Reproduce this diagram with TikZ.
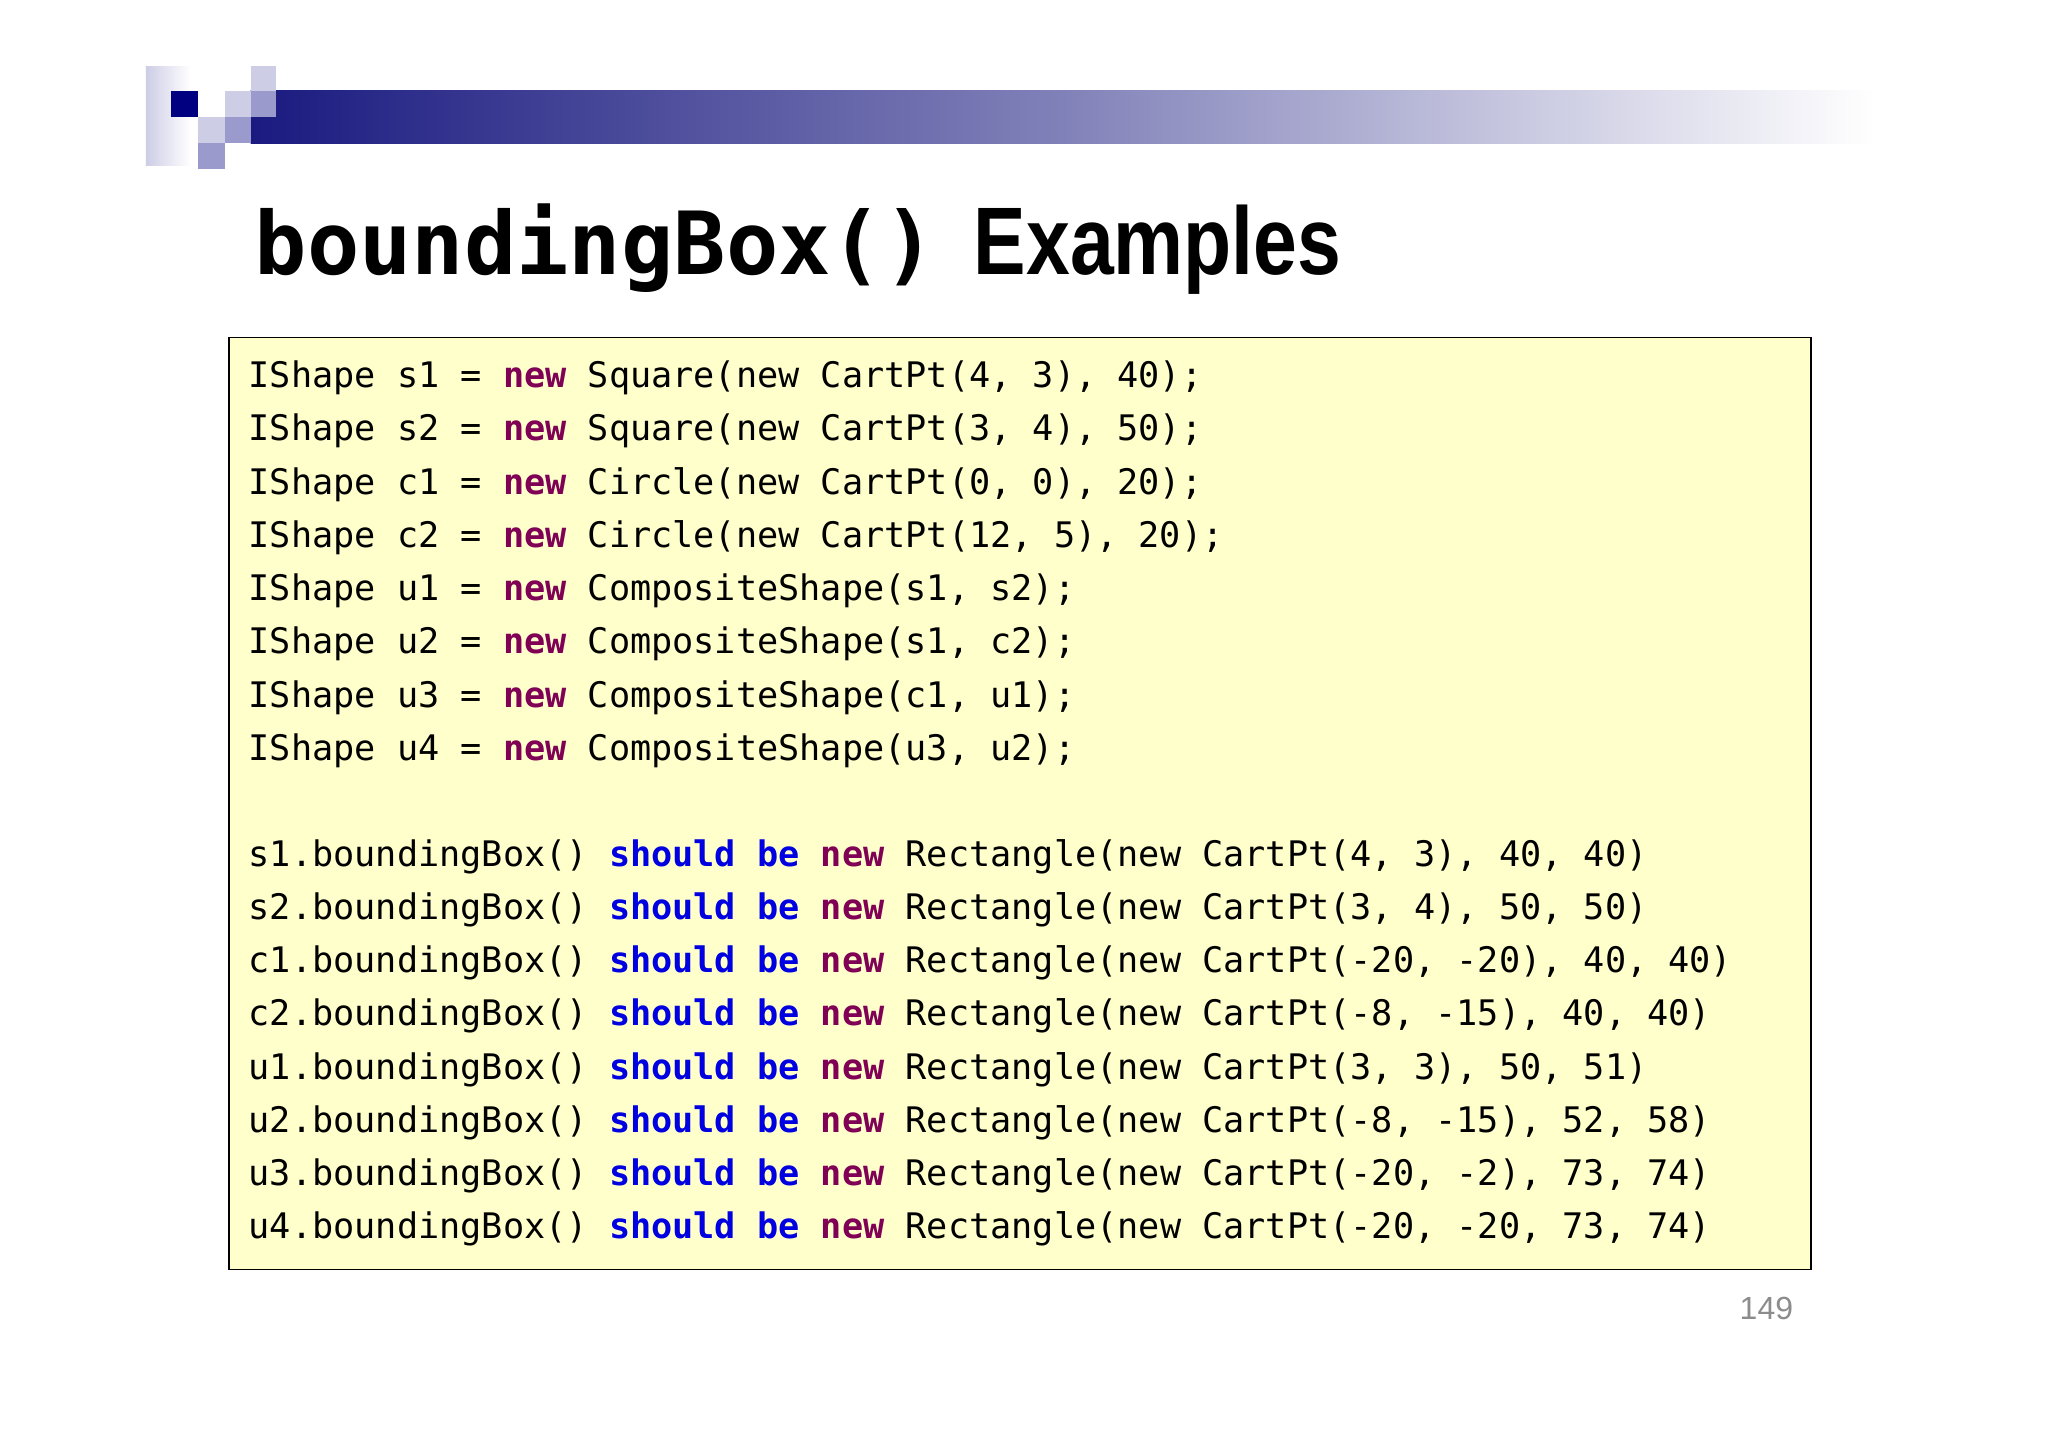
\documentclass[tikz,border=0pt]{standalone}
\usepackage{fontspec}
\setmonofont{DejaVu Sans Mono}
\setmainfont{Liberation Sans}
\definecolor{navy}{HTML}{1A1A80}
\definecolor{dnavy}{HTML}{000080}
\definecolor{pale}{HTML}{CDCDE6}
\definecolor{med}{HTML}{9A9ACD}
\definecolor{codebg}{HTML}{FFFFCC}
\definecolor{kwnew}{HTML}{7F0055}
\definecolor{kwblue}{HTML}{0000E0}
\definecolor{pnum}{HTML}{8C8C8C}
\tikzset{codeline/.style={anchor=base west,inner sep=0pt,font=\fontsize{35.2}{40}\selectfont\ttfamily}}
\newcommand{\kn}{\textcolor{kwnew}{\bfseries new}}
\newcommand{\kb}{\textcolor{kwblue}{\bfseries should be}}
\begin{document}
\begin{tikzpicture}[x=1pt,y=-1pt]
\useasboundingbox (0,0) rectangle (2048,1447);
\fill[white] (0,0) rectangle (2048,1447);
\begin{scope}[x=0.9864pt,y=-0.9864pt]
% header decoration
\shade[left color=pale,right color=white] (148,67) rectangle (193,168);
\shade[left color=navy,right color=white,middle color=navy!55!white] (254,92) rectangle (1900,145);
\fill[dnavy] (173,92) rectangle (201,119);
\fill[pale] (201,119) rectangle (228,145);
\fill[pale] (228,92) rectangle (254,119);
\fill[pale] (254,67) rectangle (280,92);
\fill[med] (254,92) rectangle (280,119);
\fill[med] (228,119) rectangle (254,145);
\fill[med] (201,145) rectangle (228,171);
% title
\node[anchor=base west,inner sep=0pt] (title) at (258,278) {\fontsize{87}{90}\selectfont\ttfamily\bfseries boundingBox()};
\node[anchor=base west,inner sep=0pt] (title2) at (987,278) {\scalebox{0.82}[1]{\fontsize{96}{100}\selectfont\bfseries Examples}};
% code box
\draw[fill=codebg,line width=1.5pt] (232,342) rectangle (1836,1287);
\node[codeline] (a1) at (252,393) {IShape s1 = \kn{} Square(new CartPt(4, 3), 40);};
\node[codeline] (a2) at (252,447) {IShape s2 = \kn{} Square(new CartPt(3, 4), 50);};
\node[codeline] (a3) at (252,501) {IShape c1 = \kn{} Circle(new CartPt(0, 0), 20);};
\node[codeline] (a4) at (252,555) {IShape c2 = \kn{} Circle(new CartPt(12, 5), 20);};
\node[codeline] (a5) at (252,609) {IShape u1 = \kn{} CompositeShape(s1, s2);};
\node[codeline] (a6) at (252,663) {IShape u2 = \kn{} CompositeShape(s1, c2);};
\node[codeline] (a7) at (252,717) {IShape u3 = \kn{} CompositeShape(c1, u1);};
\node[codeline] (a8) at (252,771) {IShape u4 = \kn{} CompositeShape(u3, u2);};
\node[codeline] (b1) at (252,878) {s1.boundingBox() \kb{} \kn{} Rectangle(new CartPt(4, 3), 40, 40)};
\node[codeline] (b2) at (252,932) {s2.boundingBox() \kb{} \kn{} Rectangle(new CartPt(3, 4), 50, 50)};
\node[codeline] (b3) at (252,986) {c1.boundingBox() \kb{} \kn{} Rectangle(new CartPt(-20, -20), 40, 40)};
\node[codeline] (b4) at (252,1040) {c2.boundingBox() \kb{} \kn{} Rectangle(new CartPt(-8, -15), 40, 40)};
\node[codeline] (b5) at (252,1094) {u1.boundingBox() \kb{} \kn{} Rectangle(new CartPt(3, 3), 50, 51)};
\node[codeline] (b6) at (252,1148) {u2.boundingBox() \kb{} \kn{} Rectangle(new CartPt(-8, -15), 52, 58)};
\node[codeline] (b7) at (252,1202) {u3.boundingBox() \kb{} \kn{} Rectangle(new CartPt(-20, -2), 73, 74)};
\node[codeline] (b8) at (252,1256) {u4.boundingBox() \kb{} \kn{} Rectangle(new CartPt(-20, -20, 73, 74)};
\node[anchor=base east,inner sep=0pt,text=pnum,font=\fontsize{32}{34}\selectfont] (pg) at (1818,1338) {149};
\end{scope}
\end{tikzpicture}
\end{document}
